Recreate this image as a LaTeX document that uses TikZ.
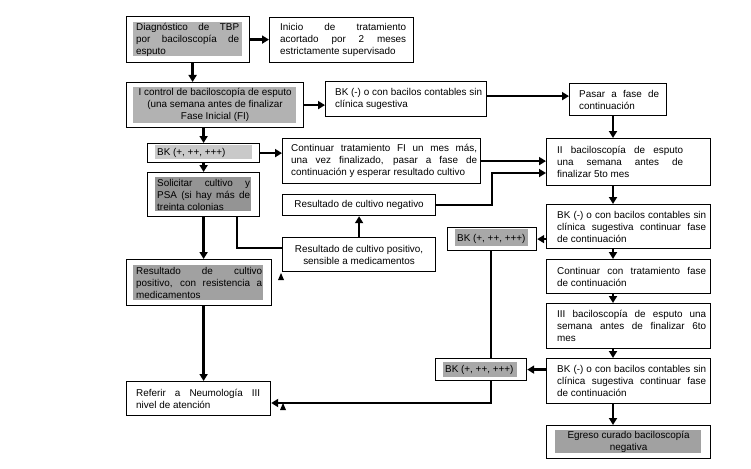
\documentclass[tikz,border=0pt]{standalone}
\usepackage{fontspec}
\setmainfont{Liberation Sans}
\usetikzlibrary{arrows.meta}
\definecolor{gA}{gray}{0.70}
\definecolor{gB}{gray}{0.79}
\definecolor{gC}{gray}{0.58}
\definecolor{gD}{gray}{0.63}
\definecolor{gE}{gray}{0.66}
\newcommand\diagfont{\fontsize{9.9pt}{12pt}\selectfont\hyphenpenalty=10000\exhyphenpenalty=10000}
\begin{document}
\begin{tikzpicture}[x=1pt,y=-1pt,
  box/.style={draw, line width=1.2pt, inner sep=0pt, anchor=north west},
  txt/.style={font=\diagfont, inner sep=0pt, align=justify, anchor=west},
  ltxt/.style={font=\diagfont, inner sep=0pt, align=left, anchor=west},
  ctxt/.style={font=\diagfont, inner sep=0pt, align=center, anchor=center},
  arr/.style={line width=2.3pt, -{Triangle[length=7pt,width=8pt]}},
  ln/.style={line width=2.3pt}]
\useasboundingbox (0,0) rectangle (751,468);
\fill[white] (0,0) rectangle (751,468);

% grey highlights
\fill[gA] (133,22) rectangle (242,56);
\fill[gA] (133,87) rectangle (296,123);
\fill[gB] (155,145) rectangle (252,159);
\fill[gC] (155,177) rectangle (251,211);
\fill[gD] (133,265) rectangle (263,300);
\fill[gE] (455,229) rectangle (528,246);
\fill[gE] (443,362) rectangle (517,377);
\fill[gD] (555,430) rectangle (701,453);

% boxes
\node[box, minimum width=123pt, minimum height=46pt] (diag) at (126,16) {};
\node[box, minimum width=144pt, minimum height=45pt] (inicio) at (269,17) {};
\node[box, minimum width=177pt, minimum height=45pt] (ctrl1) at (126,82) {};
\node[box, minimum width=161pt, minimum height=35pt] (bkneg1) at (325,81) {};
\node[box, minimum width=97pt, minimum height=32pt] (pasar) at (569,83) {};
\node[box, minimum width=112pt, minimum height=19pt] (bkpos1) at (147,143) {};
\node[box, minimum width=198pt, minimum height=45pt] (contFI) at (282,138) {};
\node[box, minimum width=112pt, minimum height=44pt] (solic) at (147,172) {};
\node[box, minimum width=153pt, minimum height=21pt] (neg) at (282,194) {};
\node[box, minimum width=153pt, minimum height=34pt] (possens) at (282,237) {};
\node[box, minimum width=145pt, minimum height=46pt] (resist) at (126,259) {};
\node[box, minimum width=144pt, minimum height=34pt] (referir) at (126,381) {};
\node[box, minimum width=164pt, minimum height=47pt] (II) at (546,138) {};
\node[box, minimum width=164pt, minimum height=44pt] (bkneg2) at (546,204) {};
\node[box, minimum width=164pt, minimum height=34pt] (conttrat) at (546,259) {};
\node[box, minimum width=164pt, minimum height=45pt] (III) at (546,303) {};
\node[box, minimum width=164pt, minimum height=45pt] (bkneg3) at (546,358) {};
\node[box, minimum width=164pt, minimum height=33pt] (egreso) at (546,425) {};
\node[box, minimum width=89pt, minimum height=23pt] (bkpos2) at (447,227) {};
\node[box, minimum width=91pt, minimum height=22pt] (bkpos3) at (435,358) {};

% texts
\node[txt, text width=103pt] at ([xshift=10pt]diag.west) {Diagnóstico de TBP\linebreak por baciloscopía de\linebreak esputo};
\node[txt, text width=126pt] at ([xshift=11pt]inicio.west) {Inicio de tratamiento\linebreak acortado por 2 meses\linebreak estrictamente supervisado};
\node[ctxt] at (ctrl1.center) {I control de baciloscopía de esputo\\(una semana antes de finalizar\\Fase Inicial (FI)};
\node[ltxt] at ([xshift=10pt]bkneg1.west) {BK (-) o con bacilos contables sin\\clínica sugestiva};
\node[txt, text width=80pt] at ([xshift=10pt]pasar.west) {Pasar a fase de\linebreak continuación};
\node[ltxt] at ([xshift=10pt]bkpos1.west) {BK (+, ++, +++)};
\node[txt, text width=186pt] at ([xshift=9pt]contFI.west) {Continuar tratamiento FI un mes más,\linebreak una vez finalizado, pasar a fase de\linebreak continuación y esperar resultado cultivo};
\node[txt, text width=93pt] at ([xshift=10pt]solic.west) {Solicitar cultivo y\linebreak PSA (si hay más de\linebreak treinta colonias};
\node[ctxt] at (neg.center) {Resultado de cultivo negativo};
\node[ctxt] at (possens.center) {Resultado de cultivo positivo,\\sensible a medicamentos};
\node[txt, text width=126pt] at ([xshift=10pt]resist.west) {Resultado de cultivo\linebreak positivo, con resistencia a\linebreak medicamentos};
\node[txt, text width=124pt] at ([xshift=10pt]referir.west) {Referir a Neumología III\linebreak nivel de atención};
\node[txt, text width=126pt] at ([xshift=11pt]II.west) {II baciloscopía de esputo\linebreak una semana antes de\linebreak finalizar 5to mes};
\node[txt, text width=149pt] at ([xshift=11pt]bkneg2.west) {BK (-) o con bacilos contables sin\linebreak clínica sugestiva continuar fase\linebreak de continuación};
\node[txt, text width=149pt] at ([xshift=11pt]conttrat.west) {Continuar con tratamiento fase\linebreak de continuación};
\node[txt, text width=149pt] at ([xshift=11pt]III.west) {III baciloscopía de esputo una\linebreak semana antes de finalizar 6to\linebreak mes};
\node[txt, text width=149pt] at ([xshift=11pt]bkneg3.west) {BK (-) o con bacilos contables sin\linebreak clínica sugestiva continuar fase\linebreak de continuación};
\node[ctxt] at (egreso.center) {Egreso curado baciloscopía\\negativa};
\node[ltxt] at ([xshift=10pt]bkpos2.west) {BK (+, ++, +++)};
\node[ltxt] at ([xshift=10pt]bkpos3.west) {BK (+, ++, +++)};

% connector helpers
\coordinate (cx) at (613,0);
\coordinate (j1) at (492,173);
\coordinate (j2) at (237,248);
\coordinate (j3) at (491,403);

% connectors
\draw[arr] (diag.east) -- (diag.east -| inicio.west);
\draw[arr] ([xshift=4.5pt]diag.south) -- ([xshift=4.5pt]diag.south |- ctrl1.north);
\draw[arr] (ctrl1.east) -- (ctrl1.east -| bkneg1.west);
\draw[arr] ([yshift=3pt]bkneg1.east) -- ([yshift=3pt]bkneg1.east -| pasar.west);
\draw[arr] (pasar.south -| cx) -- (II.north -| cx);
\draw[arr] (ctrl1.south -| bkpos1.north) -- (bkpos1.north);
\draw[arr] (bkpos1.east) -- (bkpos1.east -| contFI.west);
\draw[arr] (bkpos1.south) -- (solic.north);
\draw[arr] (contFI.east) -- (contFI.east -| II.west);
\draw[arr] (neg.east) -| (j1) -- (j1 -| II.west);
\draw[arr] (possens.north) -- (neg.south);
\draw[ln] (j2 |- solic.south) -- (j2) -- (j2 -| possens.west);
\draw[arr] (solic.south) -- (solic.south |- resist.north);
\draw[arr] (resist.south -| solic.south) -- (referir.north -| solic.south);
\draw[arr] (II.south -| cx) -- (bkneg2.north -| cx);
\draw[arr] (bkneg2.west |- bkpos2.east) -- (bkpos2.east);
\draw[ln] (bkpos2.south -| j3) -- (bkpos3.north -| j3);
\draw[arr] (bkpos3.south -| j3) -- (j3) -- (j3 -| referir.east);
\draw[arr] (bkneg2.south -| cx) -- (conttrat.north -| cx);
\draw[arr] (conttrat.south -| cx) -- (III.north -| cx);
\draw[arr] (III.south -| cx) -- (bkneg3.north -| cx);
\draw[arr] (bkneg3.west |- bkpos3.east) -- (bkpos3.east);
\draw[arr] (bkneg3.south -| cx) -- (egreso.north -| cx);

% stray arrowheads
\fill (278,280) -- (284,280) -- (281,273) -- cycle;
\fill (280,410) -- (286,410) -- (283,403) -- cycle;
\end{tikzpicture}
\end{document}
